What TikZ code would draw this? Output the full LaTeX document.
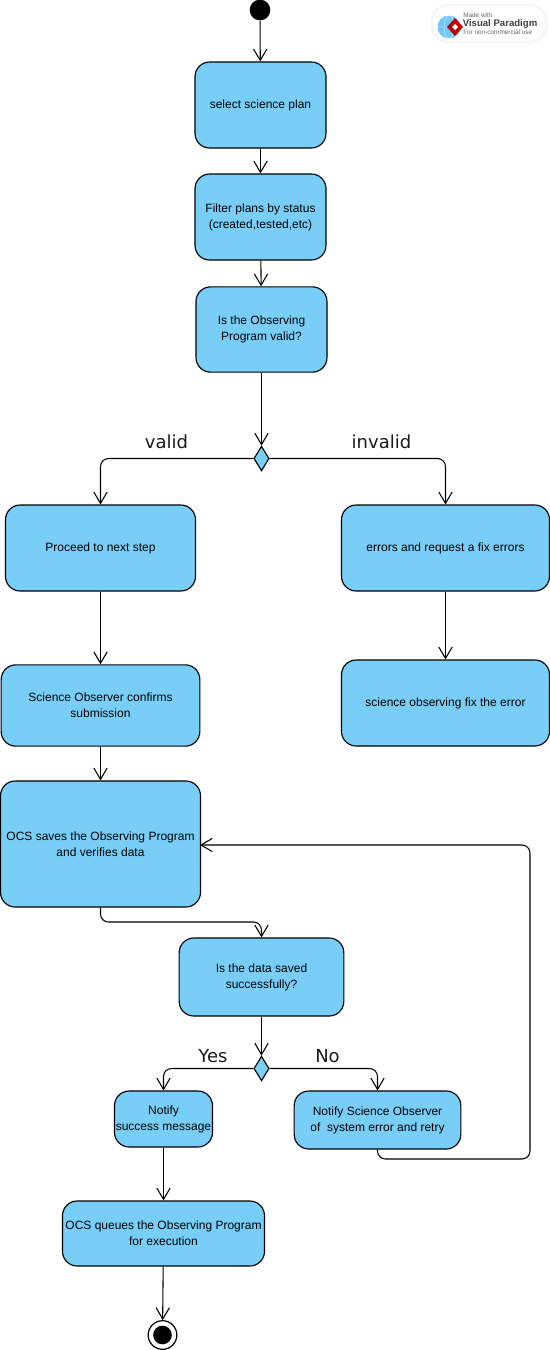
\documentclass[tikz,border=0pt]{standalone}
\usepackage{fontspec}
\setmainfont{Liberation Sans}
\newfontfamily\labelfont{DejaVu Sans}
\usetikzlibrary{arrows.meta}
\usetikzlibrary{shapes.geometric}
\definecolor{actblue}{HTML}{78CEF6}
\tikzset{
  activity/.style={draw, line width=0.85pt, fill=actblue, rounded corners=11pt, align=center,
                   inner sep=0pt, font=\fontsize{9}{12}\selectfont},
  decision/.style={draw, line width=0.85pt, fill=actblue, diamond, aspect=0.62, inner sep=0pt,
                   minimum width=11.5pt, minimum height=18.5pt},
  flow/.style={draw, line width=0.8pt, rounded corners=6pt, -{Straight Barb[length=8.5pt,width=10pt,line width=0.8pt]}},
  guard/.style={inner sep=0pt, font=\labelfont\fontsize{13.5}{16}\selectfont, text=black!90},
}
\begin{document}
\begin{tikzpicture}[x=0.75pt,y=-0.75pt]
    \useasboundingbox (0,0) rectangle (550,1350);
    %Logo
    \fill[black!4, rounded corners=13pt] (431,4) rectangle (547,43);
    \fill[white, rounded corners=12pt] (433,6) rectangle (545,41);
    \fill[blue!40!cyan!55!white] (449,27) circle (11.5);
    \draw[white, very thin] (449,27) ellipse (5 and 11.5) (437.5,27) -- (460.5,27);
    \fill[red!75!black] (455,18) -- (463,27) -- (455,36) -- (447,27) -- cycle;
    \fill[white] (455,24) -- (458,27) -- (455,30) -- (452,27) -- cycle;
    \node[inner sep=0pt, anchor=west, font=\fontsize{4.8}{5}\selectfont, text=black!60] (madewith) at (463,15.5) {Made with};
    \node[inner sep=0pt, anchor=west, font=\bfseries\fontsize{7.2}{8}\selectfont, text=black!75] (vpname) at (462.5,24) {Visual Paradigm};
    \node[inner sep=0pt, anchor=west, font=\fontsize{4.8}{5}\selectfont, text=black!60] (noncomm) at (463,32.5) {For non-commercial use};
    %Start and end
    \node[circle, fill=black, inner sep=0pt, minimum size=15.5pt] (start) at (260,10) {};
    \node[circle, draw, line width=0.9pt, fill=white, inner sep=0pt, minimum size=21.5pt] (finish) at (162.5,1335) {};
    \node[circle, fill=black, inner sep=0pt, minimum size=14pt] (finishdot) at (162.5,1335) {};
    %Activities
    \node[activity, minimum width=98.25pt, minimum height=64.5pt] (select) at (260.5,105) {select science plan};
    \node[activity, minimum width=98.25pt, minimum height=64.5pt] (filter) at (260.5,217) {Filter plans by status\\(created,tested,etc)};
    \node[activity, minimum width=98.25pt, minimum height=64pt] (isvalid) at (261.5,329.5) {Is the Observing\\Program valid?};
    \node[activity, minimum width=142.5pt, minimum height=64.5pt] (proceed) at (100.5,548) {Proceed to next step};
    \node[activity, minimum width=156pt, minimum height=64.5pt] (errors) at (445.5,548) {errors and request a fix errors};
    \node[activity, minimum width=149pt, minimum height=61pt] (confirm) at (100.5,705.5) {Science Observer confirms\\submission};
    \node[activity, minimum width=156pt, minimum height=64.5pt] (fix) at (445.5,703) {science observing fix the error};
    \node[activity, minimum width=150pt, minimum height=94.5pt] (saves) at (100.5,844) {OCS saves the Observing Program\\and verifies data};
    \node[activity, minimum width=123.5pt, minimum height=58.5pt] (saved) at (261.5,977) {Is the data saved\\successfully?};
    \node[activity, minimum width=73.5pt, minimum height=42pt] (success) at (163.5,1119) {Notify\\success message};
    \node[activity, minimum width=125pt, minimum height=43.5pt] (retry) at (377.5,1120) {Notify Science Observer\\of~ system error and retry};
    \node[activity, minimum width=151.5pt, minimum height=48.75pt] (queues) at (163.5,1233.5) {OCS queues the Observing Program\\for execution};
    %Decisions
    \node[decision] (dvalid) at (261.5,458.5) {};
    \node[decision] (dsaved) at (261.5,1068.5) {};
    %Guards
    \node[guard] (lvalid) at (166.5,442) {valid};
    \node[guard] (linvalid) at (381.5,442) {invalid};
    \node[guard] (lyes) at (213,1056) {Yes};
    \node[guard] (lno) at (327.5,1056) {No};
    %Bends
    \coordinate (savesbend) at (261.5,922);
    \coordinate (retrybend) at (530,1159);
    \coordinate (savesin) at (200,845);
    %Flows
    \draw[flow] (start) -- (select);
    \draw[flow] (select) -- (filter);
    \draw[flow] (filter) -- (isvalid);
    \draw[flow] (isvalid) -- (dvalid);
    \draw[flow] (dvalid) -| (proceed);
    \draw[flow] (dvalid) -| (errors);
    \draw[flow] (proceed) -- (confirm);
    \draw[flow] (errors) -- (fix);
    \draw[flow] (confirm) -- (saves);
    \draw[flow] (saves.south) |- (savesbend) -- (saved.north);
    \draw[flow] (saved) -- (dsaved);
    \draw[flow] (dsaved) -| (success);
    \draw[flow] (dsaved) -| (retry);
    \draw[flow] (success) -- (queues);
    \draw[flow] (retry.south) |- (retrybend) |- (savesin);
    \draw[flow] (queues) -- (finish);
\end{tikzpicture}
\end{document}
